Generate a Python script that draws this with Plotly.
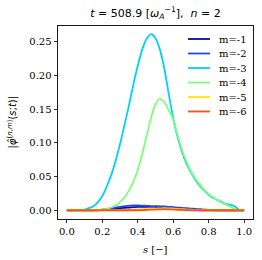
import plotly.graph_objects as go

# ---- data ----
s = [0.0, 0.025, 0.05, 0.075, 0.1, 0.125, 0.15, 0.175, 0.2, 0.225, 0.25, 0.275, 0.3, 0.325,
     0.35, 0.375, 0.4, 0.425, 0.45, 0.475, 0.5, 0.525, 0.55, 0.575, 0.6, 0.625, 0.65, 0.675,
     0.7, 0.725, 0.75, 0.775, 0.8, 0.825, 0.85, 0.875, 0.9, 0.925, 0.95, 0.975, 1.0]

m1 = [0, 0, 0, 0, 0, 0, 0, 0, 0.0005, 0.001, 0.0015, 0.002, 0.003, 0.0035, 0.004, 0.0045,
      0.005, 0.005, 0.005, 0.005, 0.0048, 0.0045, 0.004, 0.0035, 0.003, 0.0025, 0.002, 0.0015,
      0.001, 0.0005, 0, 0, 0, 0, 0, 0, 0, 0, 0, 0, 0]
m2 = [0, 0, 0, 0, 0, 0, 0, 0.0005, 0.001, 0.002, 0.003, 0.004, 0.005, 0.006, 0.0065, 0.007,
      0.007, 0.0068, 0.0065, 0.0062, 0.006, 0.0058, 0.0055, 0.005, 0.0045, 0.004, 0.0035, 0.003,
      0.0025, 0.002, 0.0015, 0.001, 0.0005, 0, 0, 0, 0, 0, 0, 0, 0]
m3 = [0, 0, 0, 0.0003, 0.001, 0.003, 0.006, 0.012, 0.021, 0.035, 0.052, 0.073, 0.098, 0.126,
      0.155, 0.186, 0.214, 0.238, 0.254, 0.261, 0.255, 0.238, 0.210, 0.172, 0.137, 0.108, 0.086,
      0.069, 0.056, 0.045, 0.036, 0.029, 0.023, 0.018, 0.015, 0.012, 0.009, 0.008, 0.005, 0.0, 0.0]
m4 = [0, 0, 0, 0, 0, 0, 0, 0.0005, 0.001, 0.002, 0.004, 0.007, 0.012, 0.019, 0.029, 0.042,
      0.060, 0.083, 0.110, 0.137, 0.157, 0.165, 0.160, 0.148, 0.135, 0.111, 0.089, 0.072, 0.058,
      0.047, 0.038, 0.030, 0.024, 0.019, 0.015, 0.011, 0.008, 0.005, 0.001, 0, 0]
m5 = [0, 0, 0, 0, 0, 0, 0, 0, 0, 0, 0, 0, 0, 0.0003, 0.0005, 0.0008, 0.001, 0.0015, 0.002,
      0.0023, 0.0025, 0.0028, 0.003, 0.0028, 0.0025, 0.002, 0.0015, 0.001, 0.0007, 0.0004,
      0.0002, 0, 0, 0, 0, 0, 0, 0, 0, 0, 0]
m6 = [0, 0, 0, 0, 0, 0, 0, 0, 0, 0, 0, 0, 0, 0, 0, 0, 0, 0.0002, 0.0005, 0.0008, 0.001,
      0.0013, 0.0015, 0.0013, 0.001, 0.0007, 0.0004, 0.0002, 0, 0, 0, 0, 0, 0, 0, 0, 0, 0, 0, 0, 0]

series_names = ["m=-1", "m=-2", "m=-3", "m=-4", "m=-5", "m=-6"]
series_values = [m1, m2, m3, m4, m5, m6]
colors = ["#0c0c88", "#2244ff", "#00d0ff", "#7dff7a", "#ffe600", "#ff5010"]

x_ticks = [0.0, 0.2, 0.4, 0.6, 0.8, 1.0]
x_ticklabels = ["0.0", "0.2", "0.4", "0.6", "0.8", "1.0"]
y_ticks = [0.0, 0.05, 0.10, 0.15, 0.20, 0.25]
y_ticklabels = ["0.00", "0.05", "0.10", "0.15", "0.20", "0.25"]

W, H = 262, 260
ML, MR, MT, MB = 58, 9, 26, 41
PW, PH = W - ML - MR, H - MT - MB

fig = go.Figure()
for name, vals, col in zip(series_names, series_values, colors):
    fig.add_trace(go.Scatter(x=s, y=vals, mode="lines", name=name, showlegend=False,
                             hoverinfo="skip",
                             line=dict(color=col, width=1.8, shape="spline", smoothing=0.6)))

serif = "DejaVu Serif"
sans = "DejaVu Sans"

axis_common = dict(showgrid=False, zeroline=False, showline=True, linecolor="black",
                   linewidth=0.9, mirror=True, ticks="outside", ticklen=3.5, tickwidth=0.8,
                   tickcolor="black", tickfont=dict(family=serif, size=10, color="black"))

fig.update_layout(
    width=W, height=H,
    margin=dict(l=ML, r=MR, t=MT, b=MB, pad=0),
    paper_bgcolor="white", plot_bgcolor="white",
    xaxis=dict(range=[-0.05, 1.05], tickvals=x_ticks, ticktext=x_ticklabels, **axis_common),
    yaxis=dict(range=[-0.013, 0.273], tickvals=y_ticks, ticktext=y_ticklabels, **axis_common),
    title=dict(text="<i>t</i> = 508.9 [<i>ω</i><sub><i>A</i></sub><sup>−1</sup>],  <i>n</i> = 2",
               x=(ML + PW / 2) / W, xanchor="center", y=1 - 13 / H, yanchor="middle",
               font=dict(family=sans, size=11, color="black")),
)

annotations = [
    dict(text="|<i>φ̂</i><sup>(<i>n</i>,<i>m</i>)</sup>(<i>s</i>;<i>t</i>)|", textangle=-90,
         xref="paper", yref="paper", x=(12 - ML) / PW, y=0.5, xanchor="center", yanchor="middle",
         showarrow=False, font=dict(family=sans, size=10, color="black")),
    dict(text="<i>s</i> [−]", xref="paper", yref="paper", x=0.5, y=(MT + PH - 250) / PH,
         xanchor="center", yanchor="middle", showarrow=False,
         font=dict(family=serif, size=10, color="black")),
]

# manual compact legend (matplotlib style)
leg_x0, leg_x1, leg_tx = 188, 210, 217
leg_y0, leg_dy = 39, 14.5
shapes = []
for i, (name, col) in enumerate(zip(series_names, colors)):
    py = leg_y0 + i * leg_dy
    yp = (MT + PH - py) / PH
    shapes.append(dict(type="line", xref="paper", yref="paper",
                       x0=(leg_x0 - ML) / PW, x1=(leg_x1 - ML) / PW, y0=yp, y1=yp,
                       line=dict(color=col, width=1.8)))
    annotations.append(dict(text=name, xref="paper", yref="paper", x=(leg_tx - ML) / PW, y=yp,
                            xanchor="left", yanchor="middle", showarrow=False,
                            font=dict(family=serif, size=10, color="black")))

fig.update_layout(annotations=annotations, shapes=shapes)
fig.write_html("out.html", config={"displayModeBar": False, "staticPlot": True},
               post_script="document.body.style.margin='0';document.body.style.overflow='hidden';")
